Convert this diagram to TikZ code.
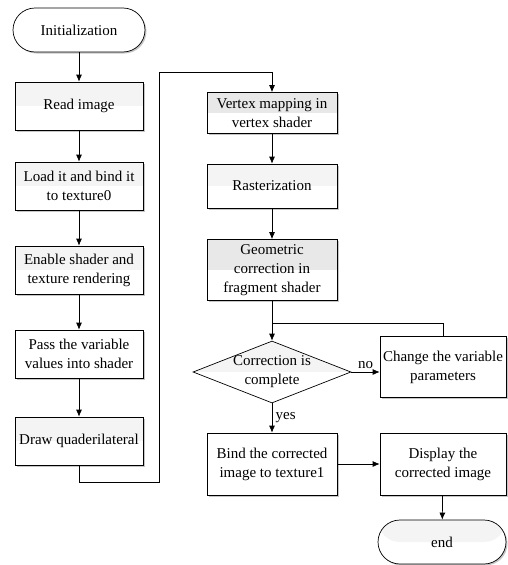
\documentclass[tikz,border=0pt]{standalone}
\usepackage{fontspec}
\setmainfont{Liberation Serif}
\usetikzlibrary{arrows.meta,shapes.geometric,shadows}

\begin{document}
\begin{tikzpicture}[x=1pt,y=-1pt,line width=0.7pt,
	font=\fontsize{15}{19}\selectfont,
	box/.style={draw,fill=white,align=center,inner sep=1pt,minimum width=128pt,minimum height=48pt,
		drop shadow={shadow xshift=1.5pt,shadow yshift=-1.5pt,fill=gray!45,opacity=1}},
	band/.style={path picture={\fill[#1] (path picture bounding box.north west) rectangle (path picture bounding box.east);}},
	band/.default=gray!9,
	term/.style={box,rounded corners=22pt,minimum height=44pt},
	dec/.style={draw,diamond,fill=white,band,aspect=2.55,inner sep=0pt,minimum width=158pt,minimum height=62pt},
	arr/.style={-{Latex[length=7pt,width=6pt]}}]
	\useasboundingbox (0,0) rectangle (507,565);
	\node[term,minimum width=132pt] (init) at (79,30) {Initialization};
	\node[box,band] (read) at (79,106) {Read image};
	\node[box,band] (load) at (79,186) {Load it and bind it\\to texture0};
	\node[box,band] (enab) at (79,270) {Enable shader and\\texture rendering};
	\node[box] (pass) at (79,354) {Pass the variable\\values into shader};
	\node[box,band] (quad) at (79,441) {Draw quaderilateral};
	\node[box,band=gray!18,minimum width=130pt,minimum height=41pt] (vert) at (272,113) {Vertex mapping in\\vertex shader};
	\node[box,band,minimum width=130pt,minimum height=44pt] (rast) at (272,186) {Rasterization};
	\node[box,band=gray!18,minimum width=130pt,minimum height=61pt] (geom) at (272,270) {Geometric\\correction in\\fragment shader};
	\node[dec,label={[align=center]center:{Correction is\\complete}}] (dia) at (272,372) {};
	\node[box,minimum width=126pt,minimum height=61pt] (chg) at (443,367) {Change the variable\\parameters};
	\node[box,minimum width=130pt,minimum height=62pt] (bind) at (272,464) {Bind the corrected\\image to texture1};
	\node[box,minimum width=126pt,minimum height=62pt] (disp) at (443,464) {Display the\\corrected image};
	\node[term,band,minimum width=128pt] (end) at (442,542) {end};
	\coordinate (c1) at (159,482);
	\coordinate (c2) at (159,72);
	\coordinate (j) at (272,323);

	\draw[arr] (init) -- (read);
	\draw[arr] (read) -- (load);
	\draw[arr] (load) -- (enab);
	\draw[arr] (enab) -- (pass);
	\draw[arr] (pass) -- (quad);
	\draw[arr] (quad.south) |- (c1) -- (c2) -| (vert.north);
	\draw[arr] (vert) -- (rast);
	\draw[arr] (rast) -- (geom);
	\draw[arr] (geom) -- (dia);
	\draw (chg.north) |- (j);
	\draw[arr] (dia.east) -- node[above] {no} (dia.east -| chg.west);
	\draw[arr] (dia) -- node[right] {yes} (bind);
	\draw[arr] (bind) -- (disp);
	\draw[arr] (disp) -- (end);
\end{tikzpicture}
\end{document}
